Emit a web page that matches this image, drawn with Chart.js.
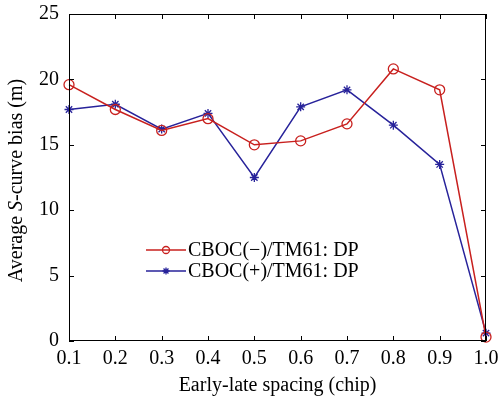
<!DOCTYPE html>
<html>
<head>
<meta charset="utf-8">
<script src="https://cdn.jsdelivr.net/npm/chart.js@4"></script>
<style>
  html, body { margin: 0; padding: 0; background: #fff; }
  #wrap { width: 499px; height: 403px; position: relative; }
</style>
</head>
<body>
<div id="wrap"><canvas id="c"></canvas></div>
<script>
// ── Data ──────────────────────────────────────
const spacing = [0.1, 0.2, 0.3, 0.4, 0.5, 0.6, 0.7, 0.8, 0.9, 1.0];
const cbocMinus = [19.6, 17.7, 16.1, 17.0, 15.0, 15.3, 16.6, 20.8, 19.2, 0.3];
const cbocPlus  = [17.7, 18.1, 16.2, 17.4, 12.5, 17.9, 19.2, 16.5, 13.5, 0.6];
const seriesNames = ['CBOC(\u2212)/TM61: DP', 'CBOC(+)/TM61: DP'];
const xTicks = [0.1, 0.2, 0.3, 0.4, 0.5, 0.6, 0.7, 0.8, 0.9, 1.0];
const yTicks = [0, 5, 10, 15, 20, 25];

const RED = '#c8201e';
const BLUE = '#27229a';
const FONT = '"Liberation Serif", "Times New Roman", serif';
const FS = 20;

const toXY = vals => vals.map((v, i) => ({ x: spacing[i], y: v }));

// ── Frame, inside ticks, titles, legend ───────
const decor = {
  id: 'decor',
  afterDraw(ch) {
    const ctx = ch.ctx;
    const xs = ch.scales.x, ys = ch.scales.y;
    // frame follows the scale range, not the chart area
    const L = Math.round(xs.getPixelForValue(xTicks[0]));
    const R = Math.round(xs.getPixelForValue(xTicks[xTicks.length - 1]));
    const T = Math.round(ys.getPixelForValue(yTicks[yTicks.length - 1]));
    const B = Math.round(ys.getPixelForValue(yTicks[0]));
    ctx.save();
    ctx.strokeStyle = '#000';
    ctx.lineWidth = 1;
    ctx.strokeRect(L + 0.5, T + 0.5, R - L - 1, B - T - 1);
    ctx.beginPath();
    xTicks.forEach(t => {
      const x = Math.round(xs.getPixelForValue(t)) + 0.5;
      ctx.moveTo(x, B); ctx.lineTo(x, B - 5);
      ctx.moveTo(x, T); ctx.lineTo(x, T + 5);
    });
    yTicks.forEach(t => {
      const y = Math.round(ys.getPixelForValue(t)) + 0.5;
      ctx.moveTo(L, y); ctx.lineTo(L + 5, y);
      ctx.moveTo(R, y); ctx.lineTo(R - 5, y);
    });
    ctx.stroke();

    // x title
    ctx.fillStyle = '#000';
    ctx.font = FS + 'px ' + FONT;
    ctx.textAlign = 'center';
    ctx.textBaseline = 'middle';
    ctx.fillText('Early-late spacing (chip)', (L + R) / 2, 386);

    // y title with italic S
    const parts = [['Average ', ''], ['S', 'italic '], ['-curve bias (m)', '']];
    let total = 0;
    parts.forEach(p => { ctx.font = p[1] + FS + 'px ' + FONT; total += ctx.measureText(p[0]).width; });
    ctx.translate(17, (T + B) / 2 + 3);
    ctx.rotate(-Math.PI / 2);
    ctx.textAlign = 'left';
    let px = -total / 2;
    parts.forEach(p => {
      ctx.font = p[1] + FS + 'px ' + FONT;
      ctx.fillText(p[0], px, 0);
      px += ctx.measureText(p[0]).width;
    });
    ctx.setTransform(1, 0, 0, 1, 0, 0);

    // legend
    const rows = [250, 271];
    ch.data.datasets.forEach((ds, i) => {
      const y = rows[i];
      ctx.strokeStyle = ds.borderColor;
      ctx.fillStyle = ds.pointBackgroundColor;
      ctx.lineWidth = 1.5;
      ctx.beginPath();
      ctx.moveTo(146, y); ctx.lineTo(186, y);
      ctx.stroke();
      ctx.lineWidth = 1.3;
      Chart.helpers.drawPoint(ctx, {
        pointStyle: ds.pointStyle, radius: 3.5, borderWidth: 1.3, rotation: 0
      }, 166, y);
      ctx.fillStyle = '#000';
      ctx.font = FS + 'px ' + FONT;
      ctx.textAlign = 'left';
      ctx.fillText(seriesNames[i], 188, y + 1);
    });
    ctx.restore();
  }
};

new Chart(document.getElementById('c'), {
  type: 'line',
  data: {
    datasets: [{
      label: seriesNames[0],
      data: toXY(cbocMinus),
      borderColor: RED,
      backgroundColor: 'rgba(0,0,0,0)',
      borderWidth: 1.5,
      pointStyle: 'circle',
      pointRadius: 5,
      pointBorderWidth: 1.3,
      pointBorderColor: RED,
      pointBackgroundColor: 'rgba(0,0,0,0)',
      tension: 0,
      clip: false
    }, {
      label: seriesNames[1],
      data: toXY(cbocPlus),
      borderColor: BLUE,
      backgroundColor: 'rgba(0,0,0,0)',
      borderWidth: 1.5,
      pointStyle: 'star',
      pointRadius: 4.5,
      pointBorderWidth: 1.3,
      pointBorderColor: BLUE,
      pointBackgroundColor: BLUE,
      tension: 0,
      clip: false
    }]
  },
  options: {
    responsive: true,
    maintainAspectRatio: false,
    animation: false,
    events: [],
    layout: { padding: { left: 0, right: 0, top: 14, bottom: 0 } },
    plugins: { legend: { display: false }, tooltip: { enabled: false } },
    scales: {
      x: {
        type: 'linear',
        min: 0.1, max: 1.0,
        afterBuildTicks: s => { s.ticks = xTicks.map(v => ({ value: v })); },
        afterFit: s => { s.height = 62; s.paddingLeft = 0; s.paddingRight = 13; },
        grid: { display: false, drawTicks: false },
        border: { display: false },
        ticks: {
          color: '#000',
          padding: 6,
          maxRotation: 0,
          autoSkip: false,
          font: { family: FONT, size: FS },
          callback: v => Number(v).toFixed(1)
        }
      },
      y: {
        min: 0, max: 25,
        afterBuildTicks: s => { s.ticks = yTicks.map(v => ({ value: v })); },
        afterFit: s => { s.width = 69; s.paddingTop = 0; s.paddingBottom = 0; },
        grid: { display: false, drawTicks: false },
        border: { display: false },
        ticks: {
          color: '#000',
          padding: 10,
          font: { family: FONT, size: FS }
        }
      }
    }
  },
  plugins: [decor]
});
</script>
</body>
</html>
